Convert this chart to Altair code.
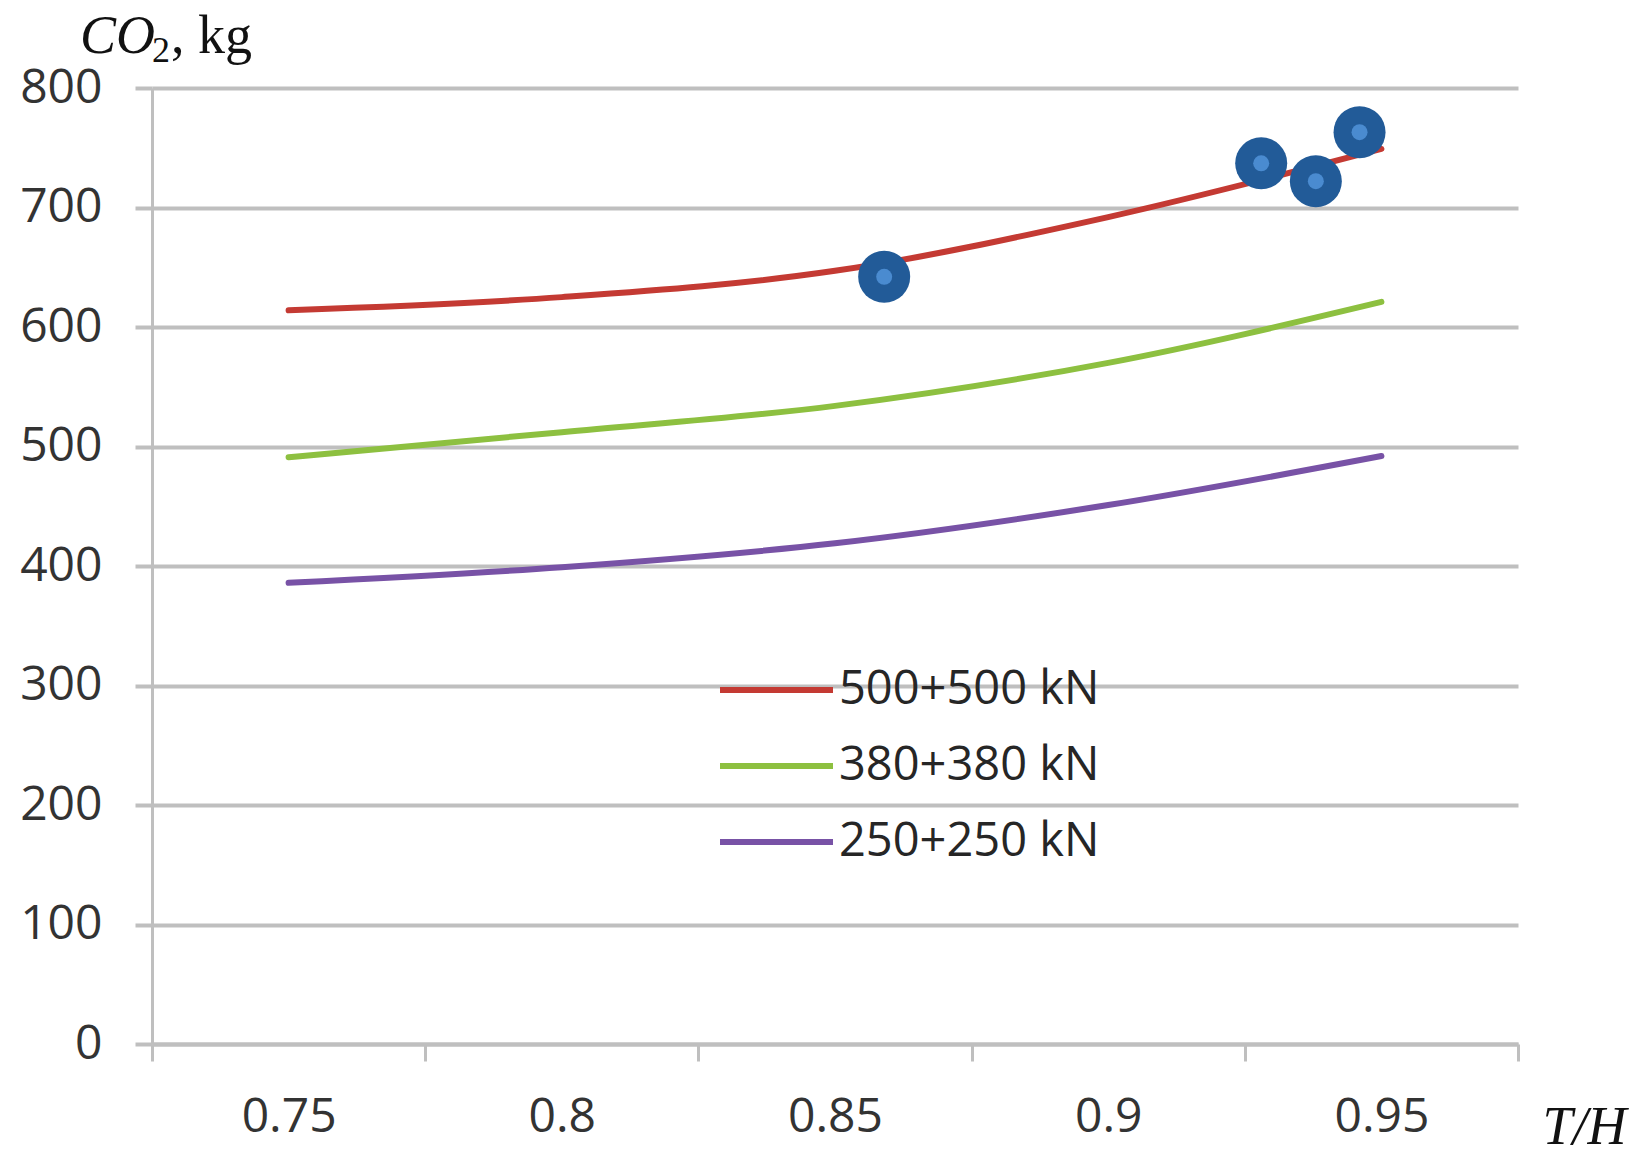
"""CO2 (kg) against T/H for three load cases, with the optimum points marked."""

import altair as alt
import pandas as pd

# values
t_h = [0.75, 0.8, 0.85, 0.9, 0.95]
co2_500 = [614, 625, 647, 692, 749]
co2_380 = [491, 512, 534, 570, 621]
co2_250 = [386, 399, 419, 451, 492]
series_names = ['500+500 kN', '380+380 kN', '250+250 kN']
series_colors = ['#C43A33', '#8DC040', '#7852A6']

marker_th = [0.859, 0.928, 0.938, 0.946]
marker_co2 = [642, 737, 722, 763]

# category edges (Excel-style axis: ticks between categories)
x_edges = [0.725, 0.775, 0.825, 0.875, 0.925, 0.975]
y_ticks = [0, 100, 200, 300, 400, 500, 600, 700, 800]

W, H = 1366, 956
GRID = '#BFBFBF'
SANS = 'Open Sans'
SERIF = 'Liberation Serif'

lines_df = pd.DataFrame({
    't_h': t_h * 3,
    'co2': co2_500 + co2_380 + co2_250,
    'series': [s for s in series_names for _ in t_h],
})
markers_df = pd.DataFrame({'t_h': marker_th, 'co2': marker_co2})

x_scale = alt.Scale(domain=[x_edges[0], x_edges[-1]], nice=False, zero=False)
y_scale = alt.Scale(domain=[0, 800], nice=False)

x_axis = alt.Axis(
    values=x_edges, grid=False,
    tickSize=17, tickWidth=3, tickColor=GRID,
    domainColor=GRID, domainWidth=4,
    labelOffset=W / 10, labelPadding=32,
    labelExpr="datum.value < 0.95 ? format(datum.value + 0.025, '.2~f') : ''",
    labelFont=SANS, labelFontSize=48, labelColor='#333333',
    labelOverlap=False, labelFlush=False, labelBound=False,
    title='T/H', titleFont=SERIF, titleFontStyle='italic', titleFontWeight='normal',
    titleFontSize=54, titleColor='#111111', titleAlign='left', titleBaseline='alphabetic',
    titleAnchor='start', titleX=1390, titleY=99,
)
y_axis = alt.Axis(
    values=y_ticks, grid=True, gridColor=GRID, gridWidth=4,
    tickSize=17, tickWidth=4, tickColor=GRID,
    domainColor=GRID, domainWidth=3,
    labelPadding=33, labelFont=SANS, labelFontSize=48, labelColor='#333333',
    title='',
)

lines = (
    alt.Chart(lines_df)
    .mark_line(strokeWidth=6, interpolate='monotone', strokeCap='round')
    .encode(
        x=alt.X('t_h:Q', scale=x_scale, axis=x_axis),
        y=alt.Y('co2:Q', scale=y_scale, axis=y_axis),
        color=alt.Color(
            'series:N',
            scale=alt.Scale(domain=series_names, range=series_colors),
            sort=series_names,
            legend=alt.Legend(
                title=None, orient='none', legendX=565, legendY=564,
                symbolType='stroke', symbolSize=12769, symbolStrokeWidth=6,
                labelFont=SANS, labelFontSize=47, labelColor='#262626',
                labelLimit=600, labelOffset=3, clipHeight=76, rowPadding=0,
            ),
        ),
    )
)

dots = (
    alt.Chart(markers_df)
    .mark_point(filled=True, shape='circle', size=2704, color='#225B98', opacity=1)
    .encode(x='t_h:Q', y='co2:Q')
)
dots_core = (
    alt.Chart(markers_df)
    .mark_point(filled=True, shape='circle', size=256, color='#4A8BD0', opacity=1)
    .encode(x='t_h:Q', y='co2:Q')
)

# y-axis caption: italic CO, upright subscript 2, upright ", kg"
title_df = pd.DataFrame({'a': ['CO'], 'sub': ['2'], 'b': [', kg']})
title_co = (
    alt.Chart(title_df)
    .mark_text(font=SERIF, fontSize=54, fontStyle='italic', align='left',
               baseline='alphabetic', color='#111111')
    .encode(text='a:N', x=alt.value(-72), y=alt.value(-35))
)
title_sub = (
    alt.Chart(title_df)
    .mark_text(font=SERIF, fontSize=36, align='left',
               baseline='alphabetic', color='#111111')
    .encode(text='sub:N', x=alt.value(0), y=alt.value(-26))
)
title_kg = (
    alt.Chart(title_df)
    .mark_text(font=SERIF, fontSize=54, align='left',
               baseline='alphabetic', color='#111111')
    .encode(text='b:N', x=alt.value(19), y=alt.value(-35))
)

chart = (
    alt.layer(lines, dots, dots_core, title_co, title_sub, title_kg)
    .properties(
        width=W, height=H,
        autosize=alt.AutoSizeParams(type='none'),
        padding={'left': 144, 'top': 80, 'right': 120, 'bottom': 110},
        background='white',
    )
    .configure_view(stroke=None)
)

chart.save('out.html', embed_options={'renderer': 'svg', 'actions': False})
